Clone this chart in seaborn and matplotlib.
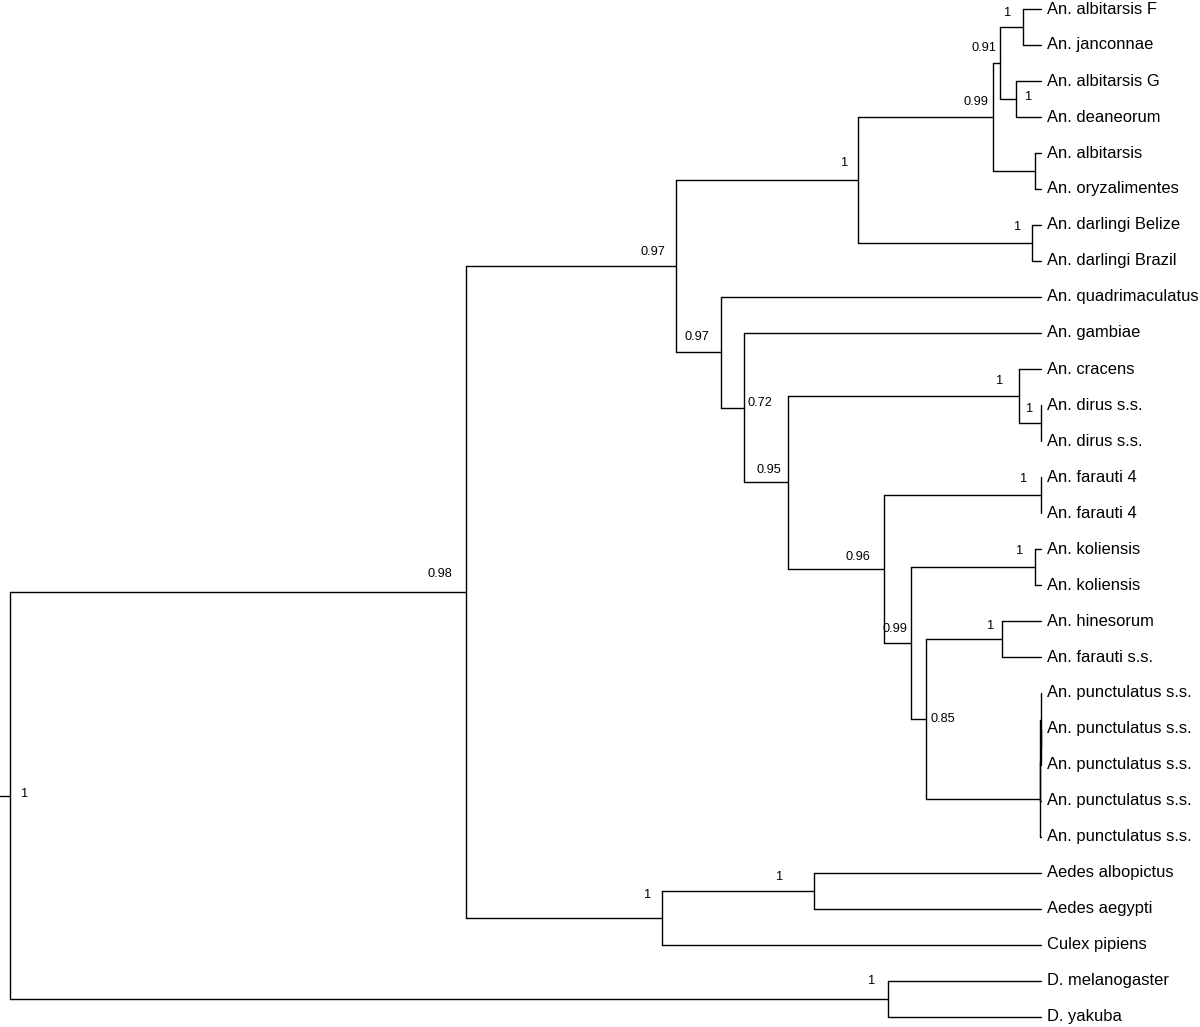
import matplotlib
matplotlib.use("Agg")
import matplotlib.pyplot as plt
import seaborn as sns
import pandas as pd

sns.set_theme(style="white")
plt.rcParams['font.family'] = ['Liberation Sans', 'DejaVu Sans']

# taxa from top to bottom
leaf_names = [
    'An. albitarsis F', 'An. janconnae', 'An. albitarsis G', 'An. deaneorum',
    'An. albitarsis', 'An. oryzalimentes', 'An. darlingi Belize', 'An. darlingi Brazil',
    'An. quadrimaculatus', 'An. gambiae', 'An. cracens', 'An. dirus s.s.',
    'An. dirus s.s.', 'An. farauti 4', 'An. farauti 4', 'An. koliensis',
    'An. koliensis', 'An. hinesorum', 'An. farauti s.s.', 'An. punctulatus s.s.',
    'An. punctulatus s.s.', 'An. punctulatus s.s.', 'An. punctulatus s.s.',
    'An. punctulatus s.s.', 'Aedes albopictus', 'Aedes aegypti', 'Culex pipiens',
    'D. melanogaster', 'D. yakuba',
]
# tip depth of every taxon (same scale as the node depths below)
leaf_depth = [1041, 1041, 1041, 1041, 1041, 1041, 1041, 1041, 1041, 1041,
              1041, 1041, 1041, 1041, 1041, 1041, 1041, 1041, 1041, 1041,
              1041, 1041, 1041, 1041, 1041, 1041, 1041, 1041, 1041]

# internal nodes: ints refer to leaves, strings to other nodes
node_names = ['root', 'A', 'anoph', 'alb', 'a2', 'a3', 'FJ', 'GD', 'AO', 'darl',
              'rest', 'r2', 'r3', 'dirus', 'dd', 'r4', 'far4', 'r5', 'kol', 'r6',
              'hin', 'P0', 'P1', 'P2', 'P3', 'aedcul', 'aedes', 'dros']
node_depth = [10, 466, 676, 858, 993, 1000, 1023, 1016, 1035, 1032,
              721, 744, 788, 1019, 1041, 884, 1041, 911, 1035, 926,
              1002, 1039.5, 1040, 1040.5, 1040.8, 662, 814, 888]
node_children = [
    ['A', 'dros'], ['anoph', 'aedcul'], ['alb', 'rest'], ['a2', 'darl'],
    ['a3', 'AO'], ['FJ', 'GD'], [0, 1], [2, 3], [4, 5], [6, 7],
    [8, 'r2'], [9, 'r3'], ['dirus', 'r4'], [10, 'dd'], [11, 12],
    ['far4', 'r5'], [13, 14], ['kol', 'r6'], [15, 16], ['hin', 'P0'],
    [17, 18], ['P1', 23], ['P2', 22], [19, 'P3'], [20, 21],
    ['aedes', 26], [24, 25], [27, 28],
]
node_support = ['1', '0.98', '0.97', '1', '0.99', '0.91', '1', '1', '', '1',
                '0.97', '0.72', '0.95', '1', '1', '0.96', '1', '0.99', '1', '0.85',
                '1', '', '', '', '', '1', '1', '1']

# where each support value sits relative to its node (pixels)
label_offset = {
    'root': (15, -1.5), 'A': (-26, -18), 'anoph': (-23, -14), 'alb': (-13, -17),
    'a2': (-17, -15), 'a3': (-16, -15), 'FJ': (-15, -14), 'GD': (13, -2),
    'darl': (-14, -16), 'rest': (-24, -15), 'r2': (16, -4.5), 'r3': (-19, -12),
    'dirus': (-19, -15), 'dd': (-11, -14), 'r4': (-26, -12), 'far4': (-17, -16),
    'r5': (-16, -13.5), 'kol': (-15, -16), 'r6': (17, 0), 'hin': (-11, -13),
    'aedcul': (-14, -23), 'aedes': (-34, -14), 'dros': (-16, -18),
}

LEAF_TOP, LEAF_STEP = 9, 36
leaf_y = [LEAF_TOP + LEAF_STEP * i for i in range(len(leaf_names))]

nodes = {n: (d, c, s) for n, d, c, s in zip(node_names, node_depth, node_children, node_support)}


def pos(ref):
    """x, y of a leaf (int) or internal node (str)."""
    if isinstance(ref, int):
        return leaf_depth[ref], leaf_y[ref]
    d, ch, _ = nodes[ref]
    ys = [pos(c)[1] for c in ch]
    return d, (min(ys) + max(ys)) / 2


# build the branch segments
rows = []
seg = 0
rx, ry = pos('root')
for xx in (0, rx):
    rows.append((seg, xx, ry))
seg += 1
for n in node_names:
    d, ch, _ = nodes[n]
    cys = [pos(c)[1] for c in ch]
    rows.append((seg, d, min(cys)))
    rows.append((seg, d, max(cys)))
    seg += 1
    for c in ch:
        cx, cy = pos(c)
        rows.append((seg, d, cy))
        rows.append((seg, cx, cy))
        seg += 1
segs = pd.DataFrame(rows, columns=['seg', 'x', 'y'])

fig = plt.figure(figsize=(12, 10.27), dpi=100)
ax = fig.add_axes([0, 0, 1, 1])
sns.lineplot(data=segs, x='x', y='y', units='seg', estimator=None, sort=False,
             color='black', linewidth=1.0, ax=ax, legend=False)

for i, name in enumerate(leaf_names):
    ax.text(leaf_depth[i] + 6, leaf_y[i], name, ha='left', va='center',
            fontsize=11.9, color='black')

for n in node_names:
    lab = nodes[n][2]
    if not lab:
        continue
    x, y = pos(n)
    dx, dy = label_offset[n]
    ax.text(x + dx, y + dy, lab, ha='center', va='center', fontsize=9.2, color='black')

ax.set_xlim(0, 1200)
ax.set_ylim(1027, 0)
ax.axis('off')

fig.savefig('out.png', dpi=100, facecolor='white')
